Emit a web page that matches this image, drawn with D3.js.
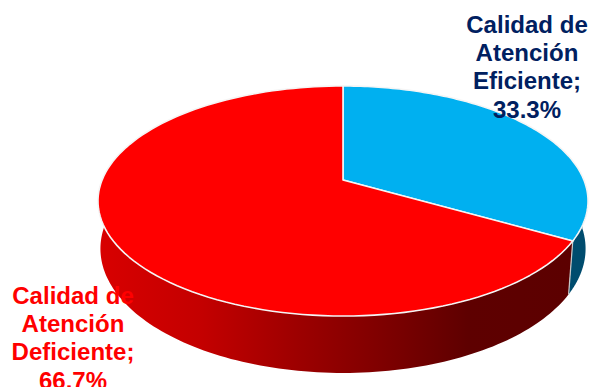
<!DOCTYPE html>
<html>
<head>
<meta charset="utf-8">
<script src="https://cdn.jsdelivr.net/npm/d3@7"></script>
<style>
  html, body { margin: 0; padding: 0; background: #fff; }
  svg { display: block; }
  text { font-family: "Liberation Sans", Arial, sans-serif; font-weight: 700; font-size: 23px; text-anchor: middle; }
</style>
</head>
<body>
<svg id="chart" width="590" height="387"></svg>
<script>
// Chart values
const categories = ["Calidad de Atención Eficiente", "Calidad de Atención Deficiente"];
const shares = [33.3, 66.7];
const topColors = ["#00b0f0", "#ff0000"];
const labelColors = ["#002060", "#ff0000"];
const labelLines = [
  ["Calidad de", "Atención", "Eficiente;", "33.3%"],
  ["Calidad de", "Atención", "Deficiente;", "66.7%"]
];
const labelAnchors = [[527, 33], [73, 304]];

const svg = d3.select("#chart");
const tilt = -0.1826;            // perspective strength of the tilted disc
const baseShift = 0.02;          // the lower rim converges slightly toward the vanishing point

// Screen scales for the disc: unit-circle coordinates to pixels
const topX = d3.scaleLinear().domain([-1, 1]).range([102.1, 583.9]);
const topY = d3.scaleLinear().domain([-1, 1]).range([68.8, 291.2]);
const baseX = d3.scaleLinear().domain([-1, 1]).range([104.5, 581.5]);
const baseY = d3.scaleLinear().domain([-1, 1]).range([105.9, 346.1]);

// Project a pie angle (clockwise from 12 o'clock) through the perspective divide
const project = (a, sx, sy) => {
  const w = 1 + tilt * -Math.cos(a);
  return [sx(Math.sin(a) / w), sy(-Math.cos(a) / w)];
};
const sampleArc = (a0, a1, sx, sy, shift = 0) =>
  d3.range(0, 1.0001, 1 / 120).map(t => project(a0 + (a1 - a0) * t + shift, sx, sy));

const line = d3.line();
const slices = d3.pie().sort(null).value(d => d)(shares);

// Gradient for the outer wall of the large slice
const defs = svg.append("defs");
const redWall = defs.append("linearGradient")
  .attr("id", "wallRed").attr("gradientUnits", "userSpaceOnUse")
  .attr("x1", 100).attr("x2", 572).attr("y1", 0).attr("y2", 0);
[[0, "#d80000"], [0.212, "#c40000"], [0.424, "#9c0000"], [0.636, "#780000"], [0.78, "#5e0000"], [1, "#5c0000"]]
  .forEach(([o, c]) => redWall.append("stop").attr("offset", o).attr("stop-color", c));

// Visible wall span of each slice: the part of the rim facing the viewer
const wallStart = Math.PI * 0.5, wallEnd = Math.PI * 1.52;
const wallFill = ["#004c6e", "url(#wallRed)"];
slices.forEach((s, i) => {
  const a0 = Math.max(s.startAngle, wallStart), a1 = Math.min(s.endAngle, wallEnd);
  if (a1 <= a0) return;
  const outline = sampleArc(a0, a1, topX, topY).concat(sampleArc(a1, a0, baseX, baseY, baseShift));
  svg.append("path")
    .attr("d", line(outline) + "Z")
    .attr("fill", wallFill[i]);
});

// Seam between the two wall segments
const seam = slices[0].endAngle;
svg.append("path")
  .attr("d", line([project(seam, topX, topY), project(seam + baseShift, baseX, baseY)]))
  .attr("stroke", "#c9c9c9").attr("stroke-width", 1.2).attr("fill", "none");

// Top face of each slice
slices.forEach((s, i) => {
  const rim = sampleArc(s.startAngle, s.endAngle, topX, topY);
  const centre = [topX(0), topY(0)];
  svg.append("path")
    .attr("d", line([centre].concat(rim)) + "Z")
    .attr("fill", topColors[i])
    .attr("stroke", "#f5f5f5")
    .attr("stroke-width", 1.6)
    .attr("stroke-linejoin", "round");
});

// Data labels, set in a slightly widened bold face
labelLines.forEach((lines, i) => {
  const [ax, ay] = labelAnchors[i];
  const t = svg.append("text")
    .attr("transform", `translate(${ax},${ay}) scale(1.045,1)`)
    .attr("fill", labelColors[i])
    .attr("aria-label", categories[i]);
  lines.forEach((txt, j) => {
    t.append("tspan")
      .attr("x", 0)
      .attr("y", j * 28.2)
      .text(txt);
  });
});
</script>
</body>
</html>
